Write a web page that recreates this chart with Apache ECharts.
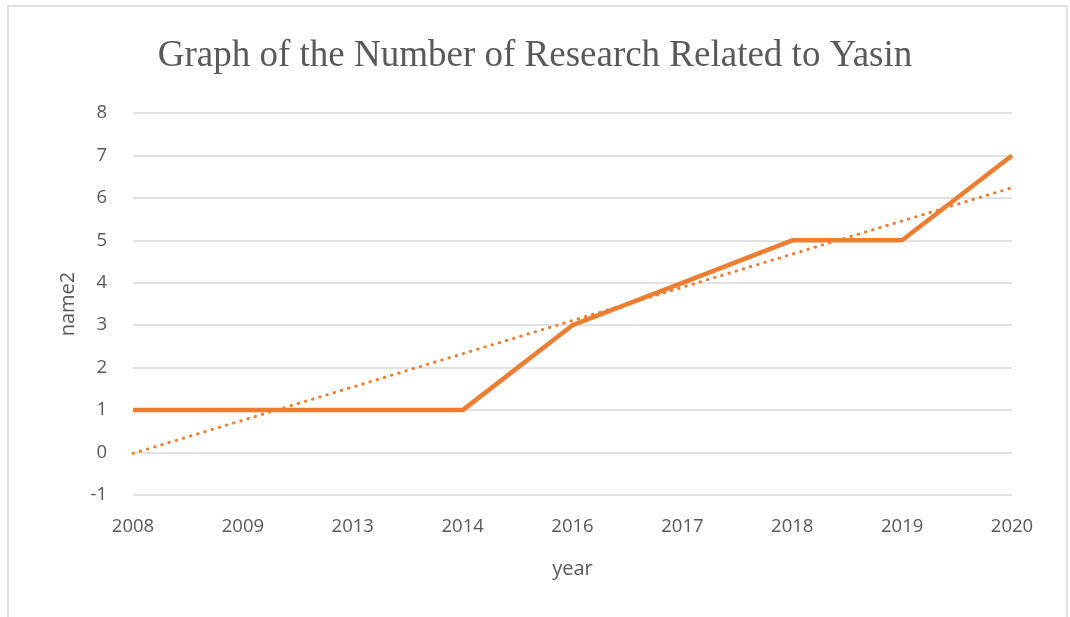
<!DOCTYPE html>
<html>
<head>
<meta charset="utf-8">
<script src="https://cdn.jsdelivr.net/npm/echarts@6/dist/echarts.min.js"></script>
<style>
html, body { margin: 0; padding: 0; background: #fff; }
#yasinChart { width: 1070px; height: 617px; }
</style>
</head>
<body>
<div id="yasinChart"></div>
<script>
const years = ['2008', '2009', '2013', '2014', '2016', '2017', '2018', '2019', '2020']
const counts = [1, 1, 1, 1, 3, 4, 5, 5, 7]
// linear trendline ends
const trend = [-0.02, null, null, null, null, null, null, null, 6.24]
const yTicks = [-1, 8]

const labelFont = { fontFamily: 'Open Sans', fontSize: 18.5, color: '#595959' }
const nameFont = { fontFamily: 'Open Sans', fontSize: 20, color: '#595959' }

const option = {
  animation: false,
  title: {
    text: 'Graph of the Number of Research Related to Yasin',
    left: 'center',
    top: 33,
    textStyle: { fontFamily: 'Liberation Serif', fontSize: 37, fontWeight: 'normal', color: '#595959' },
  },
  graphic: [
    {
      type: 'rect',
      shape: { x: 8, y: 6, width: 1059, height: 640 },
      style: { fill: 'none', stroke: '#d9d9d9', lineWidth: 1.5 },
      silent: true,
    },
  ],
  grid: { left: 133, right: 58, top: 113, bottom: 122 },
  xAxis: {
    type: 'category',
    boundaryGap: false,
    data: years,
    name: 'year',
    nameLocation: 'middle',
    nameGap: 64,
    nameTextStyle: nameFont,
    axisLine: { show: false },
    axisTick: { show: false },
    axisLabel: Object.assign({ margin: 22 }, labelFont),
  },
  yAxis: {
    type: 'value',
    min: yTicks[0],
    max: yTicks[1],
    interval: 1,
    name: 'name2',
    nameLocation: 'middle',
    nameGap: 55,
    nameTextStyle: nameFont,
    axisLine: { show: false },
    axisTick: { show: false },
    axisLabel: Object.assign({ margin: 26 }, labelFont),
    splitLine: { lineStyle: { color: '#d9d9d9', width: 1.5 } },
  },
  series: [
    {
      type: 'line',
      data: counts,
      symbol: 'none',
      lineStyle: { color: '#ED7D31', width: 4.5 },
      z: 3,
    },
    {
      type: 'line',
      data: trend,
      connectNulls: true,
      symbol: 'none',
      lineStyle: { color: '#ED7D31', width: 3, type: [0.5, 7], cap: 'round' },
      z: 2,
    },
  ],
}

const chart = echarts.init(document.getElementById('yasinChart'))
chart.setOption(option)
window.addEventListener('resize', function () {
  chart.resize()
})
</script>
</body>
</html>
